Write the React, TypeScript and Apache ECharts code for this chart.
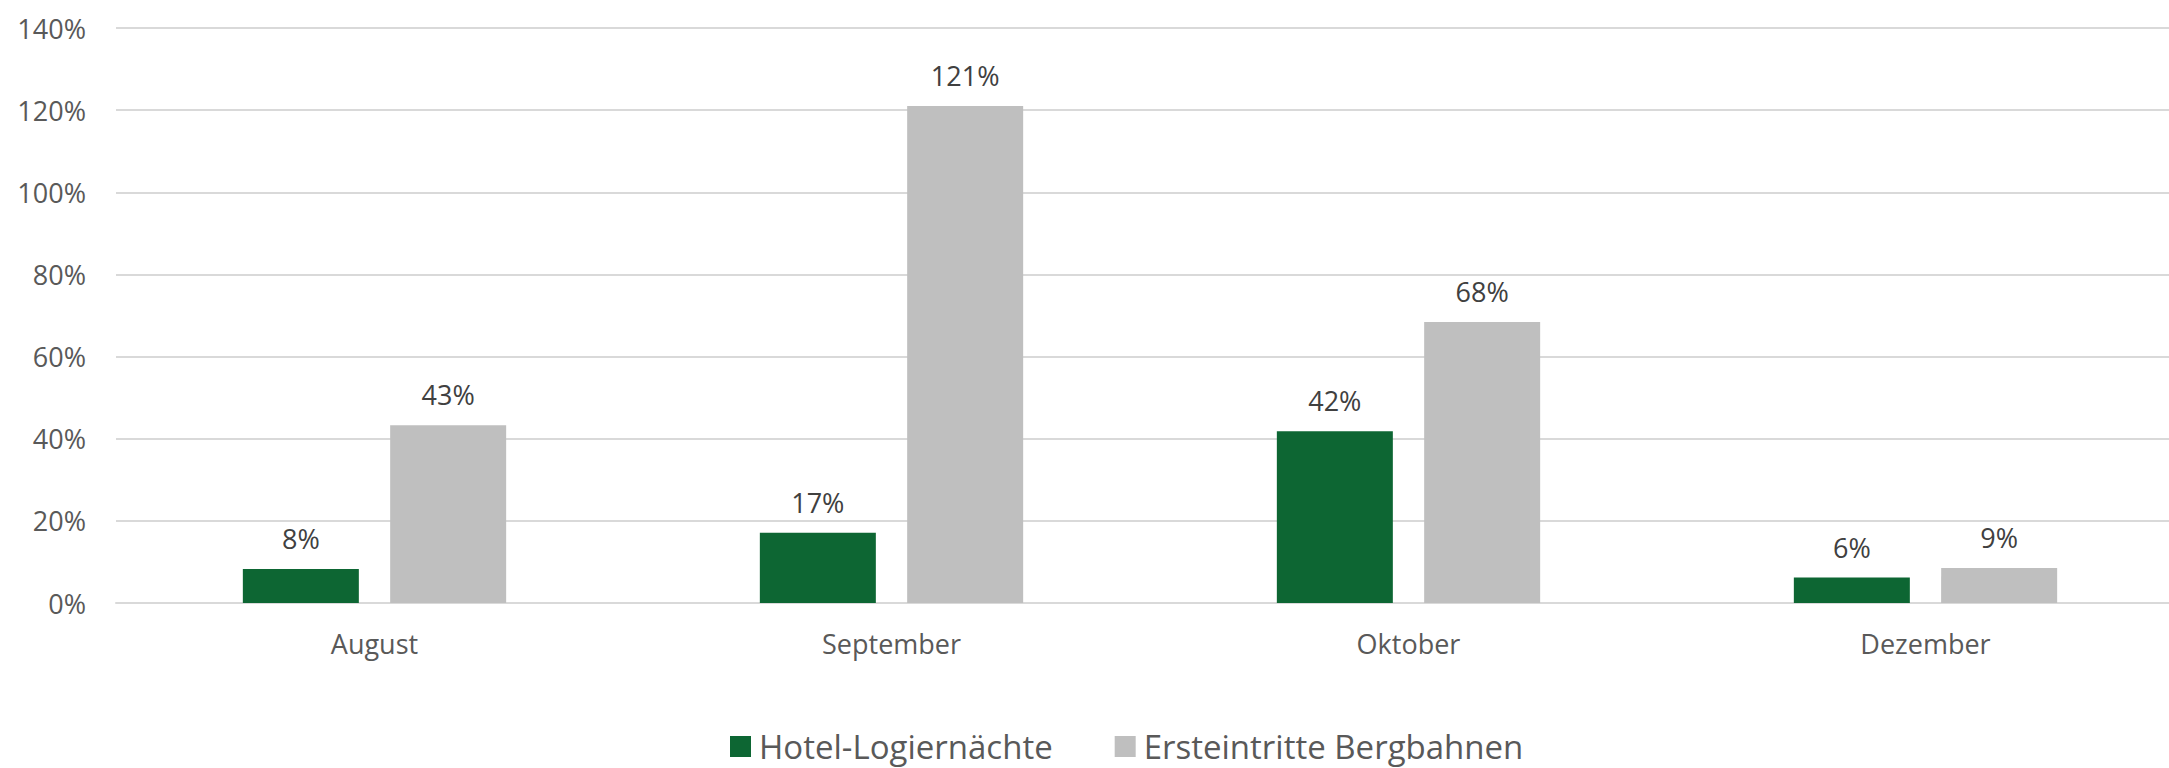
import React, { useEffect, useRef } from "react";
import * as echarts from "echarts";

const categories = ["August", "September", "Oktober", "Dezember"];
const hotelValues = [8.3, 17.1, 41.8, 6.2];
const bergbahnValues = [43.3, 121.0, 68.4, 8.5];
const seriesNames = ["Hotel-Logiernächte", "Ersteintritte Bergbahnen"];

const FONT = "'Open Sans', 'Liberation Sans', sans-serif";
const TEXT = "#595959";

export default function App() {
  const ref = useRef<HTMLDivElement>(null);
  useEffect(() => {
    document.body.style.margin = "0";
    const chart = echarts.init(ref.current!, null, { renderer: "svg" });
    const label = {
      show: true,
      position: "top",
      distance: 17,
      color: "#404040",
      fontFamily: FONT,
      fontSize: 27,
      formatter: (p: any) => Math.round(p.value) + "%",
    };
    chart.setOption({
      animation: false,
      backgroundColor: "#ffffff",
      textStyle: { fontFamily: FONT },
      grid: {
        left: 116,
        width: 2068,
        top: 28,
        bottom: 165,
        containLabel: false,
        outerBoundsMode: "none",
      },
      legend: {
        data: seriesNames,
        left: 725,
        top: 725,
        itemWidth: 21,
        itemHeight: 21,
        itemGap: 62,
        icon: "rect",
        textStyle: { color: TEXT, fontFamily: FONT, fontSize: 33, padding: [0, 0, 0, 3] },
      },
      xAxis: {
        type: "category",
        data: categories,
        axisLine: { show: true, lineStyle: { color: "#D9D9D9", width: 2 } },
        axisTick: { show: false },
        axisLabel: { color: TEXT, fontFamily: FONT, fontSize: 27, margin: 27 },
      },
      yAxis: {
        type: "value",
        min: 0,
        max: 140,
        interval: 20,
        axisLine: { show: false },
        axisTick: { show: false },
        splitLine: { lineStyle: { color: "#D9D9D9", width: 2 } },
        axisLabel: {
          color: TEXT,
          fontFamily: FONT,
          fontSize: 27,
          margin: 30,
          formatter: "{value}%",
        },
      },
      series: [
        {
          name: seriesNames[0],
          type: "bar",
          data: hotelValues,
          barWidth: 116,
          barGap: "27%",
          itemStyle: { color: "#0D6633" },
          label,
        },
        {
          name: seriesNames[1],
          type: "bar",
          data: bergbahnValues,
          barWidth: 116,
          barGap: "27%",
          itemStyle: { color: "#BFBFBF" },
          label,
        },
      ],
    });
    return () => chart.dispose();
  }, []);
  return (
    <div
      ref={ref}
      style={{ position: "absolute", left: 0, top: 0, width: 2169, height: 768, overflow: "hidden" }}
    />
  );
}
